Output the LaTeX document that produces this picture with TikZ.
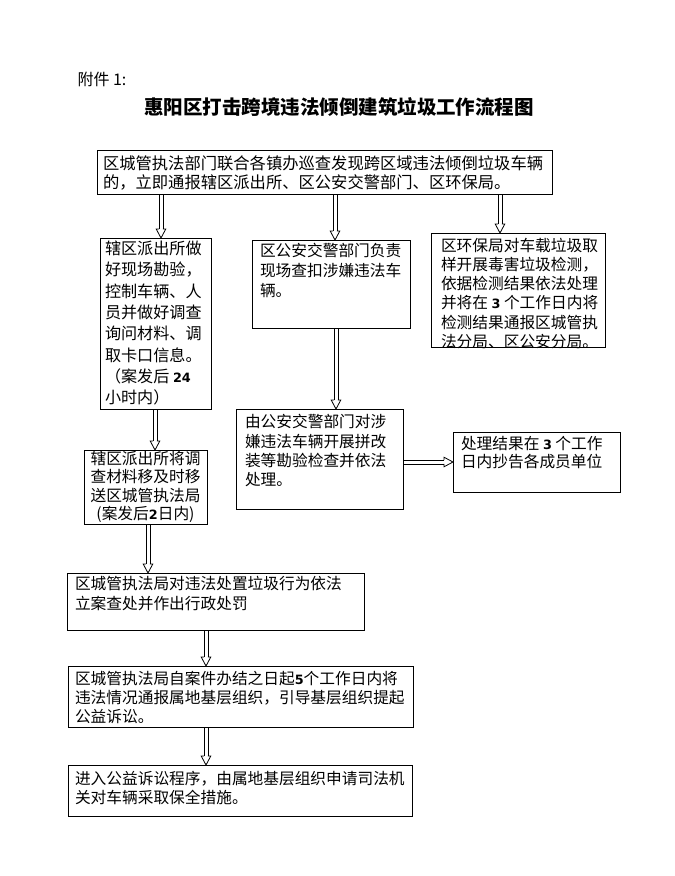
\documentclass[tikz,border=0pt]{standalone}
\usepackage{fontspec}
\setmainfont{Noto Sans CJK SC}
\newfontfamily\numfont{DejaVu Sans}
\usetikzlibrary{decorations.markings}
\newcommand\nb[1]{{\numfont\bfseries\fontsize{12.8}{12.8}\selectfont #1}}
\newcommand\boxtxt[6]{\vbox to #2{\hsize=#1\relax\parindent=0pt\relax\parskip=0pt\relax\leftskip=#3\relax\rightskip=0pt plus 1fil\relax\parfillskip=0pt plus 1fil\relax\kern\dimexpr #4-15pt\relax\baselineskip=#5\relax\lineskiplimit=-100pt\relax\lineskip=0pt\relax\noindent\rule{0pt}{15pt}#6\par\vfil}}
\newcommand\boxtxtc[5]{\vbox to #2{\hsize=#1\relax\parindent=0pt\relax\parskip=0pt\relax\leftskip=0pt plus 1fil\relax\rightskip=0pt plus 1fil\relax\parfillskip=0pt\relax\kern\dimexpr #3-15pt\relax\baselineskip=#4\relax\lineskiplimit=-100pt\relax\lineskip=0pt\relax\noindent\rule{0pt}{15pt}#5\par\vfil}}
\tikzset{
  box/.style={draw, line width=1pt, inner sep=0pt, outer sep=0pt, anchor=north west, font=\fontsize{15.7}{19}\selectfont},
  darrow/.style={postaction={decorate, decoration={markings,
    mark=at position 0 with {\draw[line width=0.8pt] (0pt,1.9pt) -- (\pgfdecoratedpathlength-9pt,1.9pt) (0pt,-1.9pt) -- (\pgfdecoratedpathlength-9pt,-1.9pt);},
    mark=at position 1 with {\draw[line width=0.8pt, line join=miter] (-9pt,1.9pt) -- (-9pt,4.8pt) -- (0,0) -- (-9pt,-4.8pt) -- (-9pt,-1.9pt);}}}}
}
\newcommand\darr[2]{\path[darrow] #1 -- #2;}
\begin{document}
\begin{tikzpicture}[x=1pt,y=-1pt]
\useasboundingbox[fill=white] (0,0) rectangle (675,876);
\node[anchor=west, font=\fontsize{16}{18}\selectfont] (att) at (74,79) {附件 1:};
\node[font=\bfseries\fontsize{19.5}{21}\selectfont] (title) at (339,107) {惠阳区打击跨境违法倾倒建筑垃圾工作流程图};
\node[box, font=\fontsize{16.3}{19}\selectfont] (n1) at (97,150) {\boxtxt{455pt}{44pt}{6pt}{19.2pt}{19.5pt}{区城管执法部门联合各镇办巡查发现跨区域违法倾倒垃圾车辆\\的，立即通报辖区派出所、区公安交警部门、区环保局。}};
\node[box, font=\fontsize{16.1}{19}\selectfont] (A) at (100,238) {\boxtxt{111pt}{171pt}{5pt}{16.6pt}{21.3pt}{辖区派出所做\\好现场勘验，\\控制车辆、人\\员并做好调查\\询问材料、调\\取卡口信息。\\（案发后 \nb{24}\\小时内）}};
\node[box] (B) at (252,240) {\boxtxt{158pt}{88pt}{8pt}{16pt}{20pt}{区公安交警部门负责\\现场查扣涉嫌违法车\\辆。}};
\node[box] (C) at (431,233) {\boxtxt{174pt}{114pt}{10pt}{18pt}{19.3pt}{区环保局对车载垃圾取\\样开展毒害垃圾检测，\\依据检测结果依法处理\\并将在 \nb{3} 个工作日内将\\检测结果通报区城管执\\法分局、区公安分局。}};
\node[box] (D) at (236,409) {\boxtxt{167pt}{100pt}{9pt}{18.8pt}{19.2pt}{由公安交警部门对涉\\嫌违法车辆开展拼改\\装等勘验检查并依法\\处理。}};
\node[box] (E) at (453,432) {\boxtxt{167pt}{60pt}{8pt}{17pt}{18.3pt}{处理结果在 \nb{3} 个工作\\日内抄告各成员单位}};
\node[box] (F) at (84,450) {\boxtxtc{123pt}{74pt}{14pt}{18.5pt}{辖区派出所将调\par 查材料移及时移\par 送区城管执法局\par (案发后\nb{2}日内)}};
\node[box] (G) at (67,573) {\boxtxt{297pt}{57pt}{8pt}{16pt}{20pt}{区城管执法局对违法处置垃圾行为依法\\立案查处并作出行政处罚}};
\node[box] (H) at (68,666) {\boxtxt{345pt}{61pt}{7pt}{18pt}{19.2pt}{区城管执法局自案件办结之日起\nb{5}个工作日内将\\违法情况通报属地基层组织，引导基层组织提起\\公益诉讼。}};
\node[box] (I) at (68,765) {\boxtxt{344pt}{51pt}{7pt}{19pt}{19pt}{进入公益诉讼程序，由属地基层组织申请司法机\\关对车辆采取保全措施。}};
\darr{([xshift=5.5pt]A.north |- n1.south)}{([xshift=5.5pt]A.north)}
\darr{([xshift=4pt]B.north |- n1.south)}{([xshift=4pt]B.north)}
\darr{([xshift=-18pt]C.north |- n1.south)}{([xshift=-18pt]C.north)}
\darr{([xshift=-0.5pt]A.south)}{([xshift=-0.5pt]A.south |- F.north)}
\darr{([xshift=5pt]B.south)}{([xshift=5pt]B.south |- D.north)}
\darr{(D.east |- E.west)}{(E.west)}
\darr{([xshift=2.5pt]F.south)}{([xshift=2.5pt]F.south |- G.north)}
\darr{([xshift=-9.5pt]G.south)}{([xshift=-9.5pt]G.south |- H.north)}
\darr{([xshift=-34.5pt]H.south)}{([xshift=-34.5pt]H.south |- I.north)}
\end{tikzpicture}
\end{document}
